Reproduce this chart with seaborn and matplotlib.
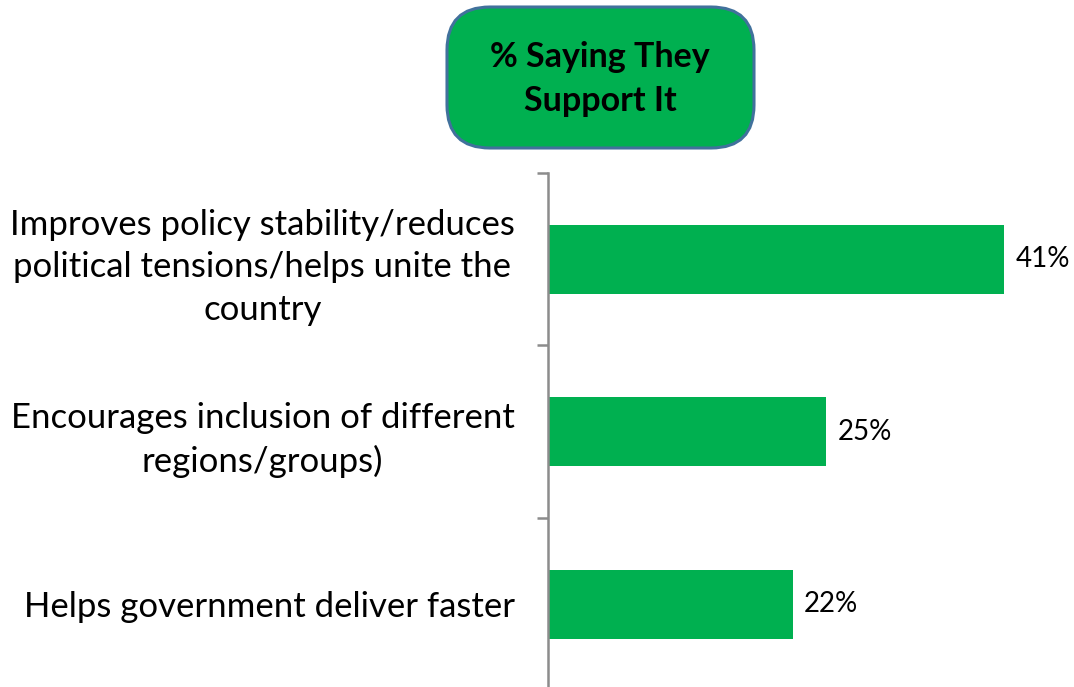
import matplotlib
matplotlib.use("Agg")
import matplotlib.pyplot as plt
from matplotlib.patches import FancyBboxPatch
import seaborn as sns
import pandas as pd

categories = [
    "Improves policy stability/reduces\npolitical tensions/helps unite the\ncountry",
    "Encourages inclusion of different\nregions/groups)",
    "Helps government deliver faster",
]
support_pct = [41, 25, 22]
value_labels = ["41%", "25%", "22%"]
title_text = "% Saying They\nSupport It"

GREEN = "#00B050"

sns.set_theme(style="white")
plt.rcParams["font.family"] = ["Lato", "DejaVu Sans"]

df = pd.DataFrame({"reason": categories, "pct": support_pct})

fig = plt.figure(figsize=(10.74, 6.87), dpi=100)
W, H = 1074, 687
ax_left, ax_right = 548, 1060
ax_top, ax_bottom = 173, 687
ax = fig.add_axes([ax_left / W, 1 - ax_bottom / H,
                   (ax_right - ax_left) / W, (ax_bottom - ax_top) / H])

sns.barplot(data=df, y="reason", x="pct", orient="h", color=GREEN,
            saturation=1, width=0.4, ax=ax, edgecolor="none")

ax.set_xlim(0, 46)
ax.set_ylim(2.48, -0.5)
ax.set_xlabel("")
ax.set_ylabel("")
ax.set_xticks([])

for s in ["top", "right", "bottom"]:
    ax.spines[s].set_visible(False)
ax.spines["left"].set_color("#8c8c8c")
ax.spines["left"].set_linewidth(1.8)

# category labels centred on bars, tick marks at band boundaries
ax.set_yticks(range(len(categories)))
ax.set_yticklabels(categories, fontsize=25, color="black",
                   multialignment="center", linespacing=1.4)
ax.tick_params(axis="y", which="major", length=0, pad=24)
ax.set_yticks([-0.5, 0.5, 1.5], minor=True)
ax.tick_params(axis="y", which="minor", length=8, width=1.8,
               color="#8c8c8c", left=True)

for i, (v, lab) in enumerate(zip(support_pct, value_labels)):
    ax.text(v + 1.0, i, lab, va="center", ha="left", fontsize=20,
            color="black")

# title box
box = FancyBboxPatch((447 / W, 1 - 148 / H), (754 - 447) / W, (148 - 7) / H,
                     boxstyle="round,pad=0,rounding_size=0.04",
                     transform=fig.transFigure, facecolor=GREEN,
                     edgecolor="#41719C", linewidth=2.2,
                     mutation_aspect=W / H)
fig.patches.append(box)
fig.text(600 / W, 1 - 79 / H, title_text, ha="center", va="center",
         fontsize=24.5, fontweight="bold", color="black", linespacing=1.45)

fig.savefig("out.png", dpi=100)
